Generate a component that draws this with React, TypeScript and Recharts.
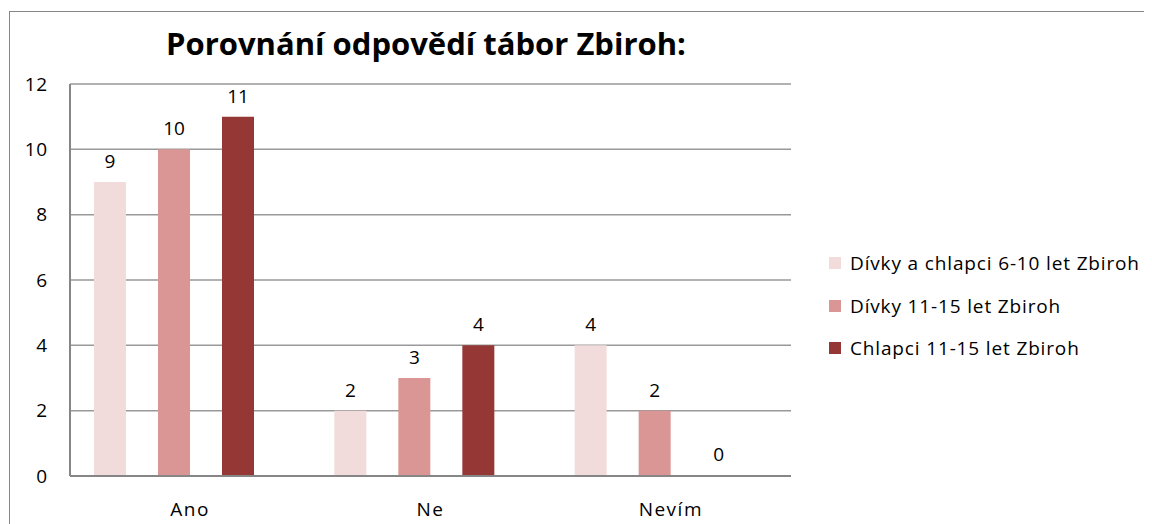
import React from "react";
import { BarChart, Bar, XAxis, YAxis, CartesianGrid, LabelList } from "recharts";

const categories = ["Ano", "Ne", "Nevím"];
const seriesNames = ["Dívky a chlapci 6-10 let Zbiroh", "Dívky 11-15 let Zbiroh", "Chlapci 11-15 let Zbiroh"];
const divkyChlapci610 = [9, 2, 4];
const divky1115 = [10, 3, 2];
const chlapci1115 = [11, 4, 0];
const yTicks = [0, 2, 4, 6, 8, 10, 12];
const colors = ["#F2DCDB", "#DA9694", "#953735"];

const data = categories.map((c, i) => ({
  name: c,
  s1: divkyChlapci610[i],
  s2: divky1115[i],
  s3: chlapci1115[i],
  pad: null as number | null,
}));

const FONT = "'Open Sans', sans-serif";
const labelStyle = { fill: "#000", fontSize: 19, fontFamily: FONT };

export default function App() {
  return (
    <div
      style={{
        marginLeft: 1,
        marginTop: 3,
        width: 1142,
        height: 512,
        borderLeft: "1px solid #868686",
        borderTop: "1px solid #868686",
        position: "relative",
        background: "#fff",
      }}
    >
      <div
        style={{
          position: "absolute",
          left: 0,
          width: 832,
          top: 10,
          textAlign: "center",
          fontFamily: FONT,
          fontWeight: 700,
          fontSize: 31,
          color: "#000",
          zIndex: 2,
          lineHeight: "normal",
        }}
      >
        Porovnání odpovědí tábor Zbiroh:
      </div>
      <div style={{ position: "absolute", left: 819, top: 230, fontFamily: FONT, zIndex: 2 }}>
        {seriesNames.map((n, i) => (
          <div key={n} style={{ display: "flex", alignItems: "center", height: 42.5 }}>
            <span style={{ width: 12, height: 12, background: colors[i], display: "inline-block", marginRight: 9 }} />
            <span style={{ fontSize: 19, color: "#000", whiteSpace: "nowrap", letterSpacing: 0.85 }}>{n}</span>
          </div>
        ))}
      </div>
      <BarChart
        width={1142}
        height={512}
        data={data}
        margin={{ top: 72, right: 361, bottom: 18, left: 10 }}
        barGap={32}
      >
        <CartesianGrid vertical={false} stroke="#999" strokeWidth={1.5} />
        <XAxis
          dataKey="name"
          axisLine={{ stroke: "#868686", strokeWidth: 2 }}
          tickLine={false}
          tickSize={0}
          tickMargin={27}
          height={30}
          tick={{ fill: "#000", fontSize: 19, fontFamily: FONT, letterSpacing: 1.5 }}
        />
        <YAxis
          domain={[0, 12]}
          ticks={yTicks}
          width={50}
          axisLine={{ stroke: "#868686", strokeWidth: 2 }}
          tickLine={false}
          tickSize={0}
          tickMargin={22}
          tick={{ fill: "#000", fontSize: 19, fontFamily: FONT, letterSpacing: 0.8 }}
        />
        <Bar dataKey="s1" name={seriesNames[0]} fill={colors[0]} barSize={32} isAnimationActive={false}>
          <LabelList dataKey="s1" position="top" offset={14} style={labelStyle} />
        </Bar>
        <Bar dataKey="s2" name={seriesNames[1]} fill={colors[1]} barSize={32} isAnimationActive={false}>
          <LabelList dataKey="s2" position="top" offset={14} style={labelStyle} />
        </Bar>
        <Bar dataKey="s3" name={seriesNames[2]} fill={colors[2]} barSize={32} minPointSize={1} isAnimationActive={false}>
          <LabelList dataKey="s3" position="top" offset={14} style={labelStyle} />
        </Bar>
        <Bar dataKey="pad" fill="transparent" barSize={1} legendType="none" isAnimationActive={false} />
      </BarChart>
    </div>
  );
}
